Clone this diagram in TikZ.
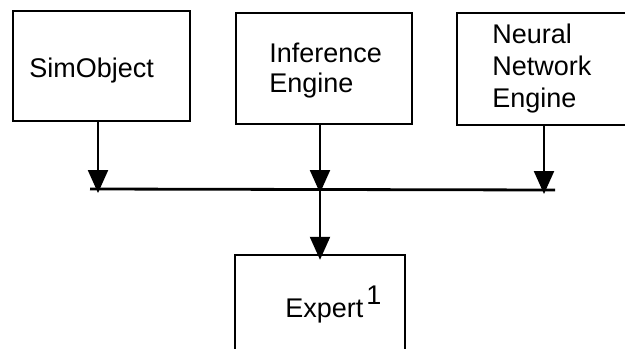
\documentclass[tikz,border=0pt]{standalone}
\usepackage{fontspec}
\setmainfont{Liberation Sans}
\usetikzlibrary{arrows.meta}

\begin{document}
\begin{tikzpicture}[x=0.5pt, y=-0.5pt,
  box/.style={draw, line width=1.2pt, inner sep=0pt, minimum width=#1},
  lbl/.style={anchor=base west, inner sep=0pt, align=left,
              font=\fontsize{13.5}{15}\selectfont},
  link/.style={line width=1.1pt, -{Triangle[length=11.5pt, width=10pt]}},
  bus/.style={line width=1.4pt}]
  \useasboundingbox (0,0) rectangle (625,348);
  \clip (0,0) rectangle (625,348);

  % component boxes
  \node[box=88.5pt, minimum height=55pt] (sim) at (101.5,66) {};
  \node[box=88pt,   minimum height=55.5pt] (inf) at (324,68.5) {};
  \node[box=86pt,   minimum height=56pt] (neu) at (543,69) {};
  \node[box=85pt,   minimum height=60pt] (expert) at (320,315) {};

  % box captions (multi-line nodes sit on the baseline of their last line)
  \node[lbl] (simtxt) at (29,77) {SimObject};
  \node[lbl] (inftxt) at (269,92) {Inference\\Engine};
  \node[lbl, font=\fontsize{13.5}{16}\selectfont] (neutxt) at (492,107) {Neural\\Network\\Engine};
  \node[lbl] (exptxt) at (285,317) {Expert\hspace{1.5pt}\raisebox{6.5pt}{1}};

  % shared bus
  \coordinate (busL) at (90,189);
  \coordinate (busR) at (555,190);
  \draw[bus] (busL) -- (busR);

  % arrow tips just below the bus
  \coordinate (tipA) at (98,193);
  \coordinate (tipB) at (320,193);
  \coordinate (tipC) at (544,194);
  \coordinate (busB) at (320,189);

  \draw[link] (sim.south -| tipA) -- (tipA);
  \draw[link] (inf.south -| tipB) -- (tipB);
  \draw[link] (neu.south -| tipC) -- (tipC);
  \draw[link] (busB) -- ([yshift=-3pt]expert.north -| busB);
\end{tikzpicture}
\end{document}
